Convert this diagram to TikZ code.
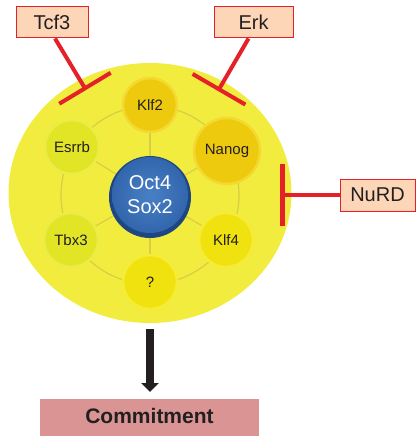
\documentclass[tikz,border=0pt]{standalone}
\usepackage{fontspec}
\setmainfont{Liberation Sans}
\usetikzlibrary{arrows.meta,shapes.geometric}
\pgfdeclarelayer{bottom}
\pgfdeclarelayer{middle}
\pgfsetlayers{bottom,middle,main}
\definecolor{diskY}{RGB}{242,236,62}
\definecolor{spokeC}{RGB}{214,206,70}
\definecolor{inhRed}{RGB}{228,32,40}
\definecolor{peach}{RGB}{252,214,182}
\definecolor{goldF}{RGB}{238,202,14}
\definecolor{goldR}{RGB}{244,218,48}
\definecolor{limeF}{RGB}{226,228,38}
\definecolor{limeR}{RGB}{236,236,70}
\definecolor{yelF}{RGB}{240,226,14}
\definecolor{yelR}{RGB}{246,236,56}
\definecolor{blueIn}{RGB}{72,128,198}
\definecolor{blueOut}{RGB}{50,102,172}
\definecolor{blueRim}{RGB}{30,70,130}
\definecolor{commitC}{RGB}{218,148,148}
\definecolor{darkC}{RGB}{35,31,32}
\begin{document}
\begin{tikzpicture}[x=1pt,y=-1pt,
  lbl/.style={draw=inhRed, line width=1pt, fill=peach, inner sep=0pt,
    font=\fontsize{20}{24}\selectfont, text=darkC},
  inh/.style={draw=inhRed, line width=4pt},
  sat/.style={circle, inner sep=0pt, minimum size=54pt, line width=2.5pt,
    font=\fontsize{15}{18}\selectfont, text=darkC},
  gold/.style={fill=goldF, draw=goldR},
  lime/.style={fill=limeF, draw=limeR},
  yel/.style={fill=yelF, draw=yelR},
  spoke/.style={draw=spokeC, line width=1.2pt}]
\useasboundingbox (0,0) rectangle (416,436);
% big disk
\begin{pgfonlayer}{bottom}
\node[ellipse, minimum width=283pt, minimum height=260pt, fill=diskY,
  inner sep=0pt] (disk) at (150,193) {};
\end{pgfonlayer}
% core
\fill[blueRim] (150,197) circle[radius=41pt];
\node[circle, minimum size=76pt, inner sep=0pt, inner color=blueIn,
  outer color=blueOut, text=white, align=center,
  font=\fontsize{20}{24}\selectfont] (core) at (150,195) {Oct4\\Sox2};
% satellites
\node[sat, gold] (klf2) at (150,105) {Klf2};
\node[sat, gold, minimum size=66pt] (nanog) at (227,151) {Nanog};
\node[sat, yel] (klf4) at (226,240) {Klf4};
\node[sat, yel] (q) at (150,282) {?};
\node[sat, lime] (tbx3) at (71,240) {Tbx3};
\node[sat, lime] (esrrb) at (72,147) {Esrrb};
% ring and spokes
\begin{pgfonlayer}{middle}
\draw[spoke] (core.center) ++(0,0) circle[radius=89pt];
\foreach \s in {klf2,nanog,klf4,q,tbx3,esrrb}{\draw[spoke] (core) -- (\s);}
\end{pgfonlayer}
% regulators
\node[lbl, minimum width=72pt, minimum height=31pt] (tcf3) at (52,22.5) {Tcf3};
\node[lbl, minimum width=79pt, minimum height=31pt] (erk) at (253.5,22.5) {Erk};
\node[lbl, minimum width=75pt, minimum height=32pt] (nurd) at (377.5,195) {NuRD};
\coordinate (tcf3bar) at (86,90);
\coordinate (erkbar) at (218,91);
\coordinate (nurdbar) at (280,195);
\draw[inh, -{Bar[width=60pt, line width=4pt]}] (tcf3.south) ++(3,0) -- (tcf3bar);
\draw[inh, -{Bar[width=61pt, line width=4pt]}] (erk.south) ++(-5,0) -- (erkbar);
\draw[inh, -{Bar[width=62pt, line width=5pt]}] (nurd.west) -- (nurdbar);
% commitment
\node[fill=commitC, minimum width=219pt, minimum height=40pt, inner sep=0pt,
  anchor=north, font=\bfseries\fontsize{21}{24}\selectfont, text=darkC,
  text height=15pt, text depth=6pt] (commit) at (149.5,399) {Commitment};
\draw[darkC, line width=8pt, shorten <=6pt, shorten >=7pt,
  -{Triangle[width=17pt, length=9pt]}] (disk.south) -- (commit.north -| disk.south);
\end{tikzpicture}
\end{document}
